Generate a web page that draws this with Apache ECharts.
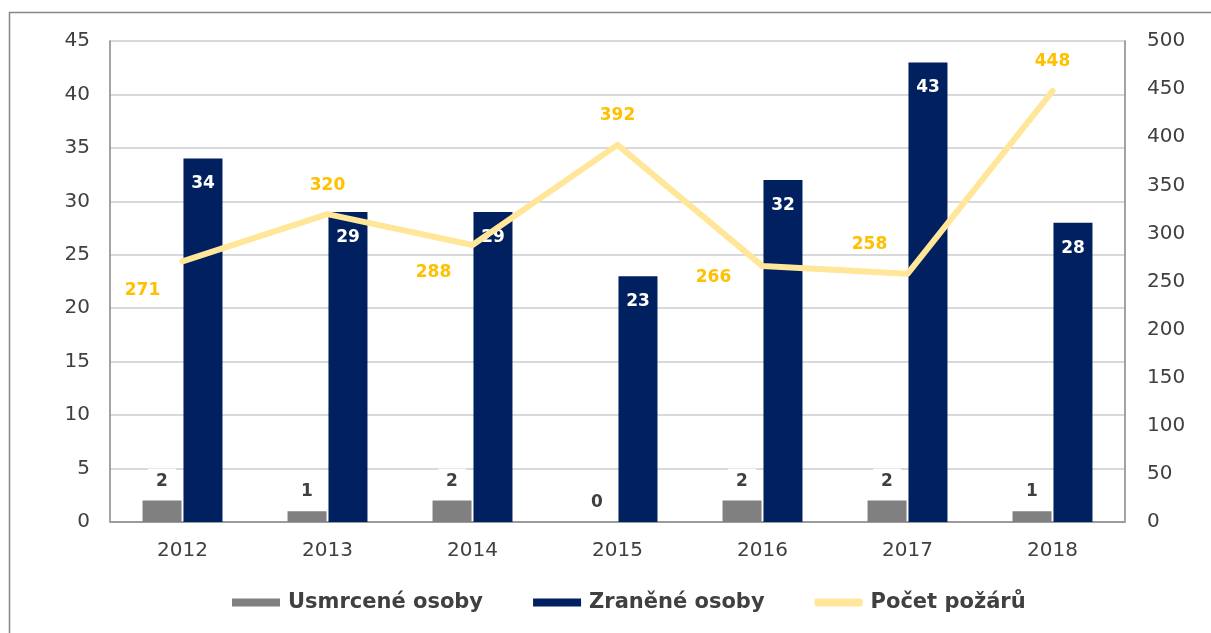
<!DOCTYPE html>
<html>
<head>
<meta charset="utf-8">
<script src="https://cdn.jsdelivr.net/npm/echarts@6/dist/echarts.min.js"></script>
<style>
  html, body { margin: 0; padding: 0; background: #fff; }
  #chart { width: 1211px; height: 633px; }
</style>
</head>
<body>
<div id="chart"></div>
<script>
// Years on the category axis
const years = ['2012', '2013', '2014', '2015', '2016', '2017', '2018'];
// Persons killed (left axis)
const killed = [2, 1, 2, 0, 2, 2, 1];
// Persons injured (left axis)
const injured = [34, 29, 29, 23, 32, 43, 28];
// Number of fires (right axis)
const fires = [271, 320, 288, 392, 266, 258, 448];
// Where each fire-count label sits relative to its point
const fireLabelOffsets = [[-40, 29], [0, -29], [-39, 28], [0, -29], [-49, 11], [-38, -29], [0, -29]];

const FONT = '"DejaVu Sans", Verdana, sans-serif';
const TEXT = '#404040';

const chart = echarts.init(document.getElementById('chart'), null, { renderer: 'canvas' });

chart.setOption({
  animation: false,
  textStyle: { fontFamily: FONT },
  graphic: [{
    type: 'rect',
    shape: { x: 9.5, y: 12.5, width: 1400, height: 800 },
    style: { fill: 'none', stroke: '#868686', lineWidth: 1.5 },
    silent: true
  }],
  grid: { left: 110, right: 86, top: 41, bottom: 111 },
  legend: {
    bottom: 15,
    left: 227,
    itemGap: 50,
    itemWidth: 48,
    itemHeight: 8,
    textStyle: { color: TEXT, fontSize: 21, fontWeight: 'bold', fontFamily: FONT, padding: [0, 0, 0, 3] },
    data: [
      { name: 'Usmrcené osoby', icon: 'rect' },
      { name: 'Zraněné osoby', icon: 'rect' },
      { name: 'Počet požárů', icon: 'roundRect' }
    ]
  },
  xAxis: [{
    type: 'category',
    data: years,
    axisTick: { show: false },
    axisLine: { lineStyle: { color: '#d9d9d9', width: 2 } },
    axisLabel: { color: TEXT, fontSize: 20, margin: 19, fontFamily: FONT }
  }, {
    type: 'category',
    data: years,
    position: 'top',
    axisTick: { show: false },
    axisLabel: { show: false },
    axisLine: { lineStyle: { color: '#868686', width: 1.5 } }
  }],
  yAxis: [{
    type: 'value',
    min: 0, max: 45, interval: 5,
    axisLine: { show: true, lineStyle: { color: '#868686', width: 1.5 } },
    axisTick: { show: false },
    splitLine: { lineStyle: { color: '#d9d9d9', width: 2 } },
    axisLabel: { color: TEXT, fontSize: 20, margin: 20, fontFamily: FONT }
  }, {
    type: 'value',
    min: 0, max: 500, interval: 50,
    position: 'right',
    axisLine: { show: true, lineStyle: { color: '#868686', width: 1.5 } },
    axisTick: { show: false },
    splitLine: { show: false },
    axisLabel: { color: TEXT, fontSize: 20, margin: 22, fontFamily: FONT }
  }],
  series: [{
    name: 'Usmrcené osoby',
    type: 'bar',
    data: killed,
    barWidth: 39,
    barGap: '5%',
    itemStyle: { color: '#808080' },
    label: {
      show: true,
      position: 'top',
      distance: 7,
      color: TEXT,
      fontSize: 17,
      fontWeight: 'bold',
      fontFamily: FONT,
      backgroundColor: '#fff',
      padding: [4, 8]
    }
  }, {
    name: 'Zraněné osoby',
    type: 'bar',
    data: injured,
    barWidth: 39,
    itemStyle: { color: '#002060' },
    label: {
      show: true,
      position: 'insideTop',
      distance: 17,
      color: '#fff',
      fontSize: 17,
      fontWeight: 'bold',
      fontFamily: FONT
    }
  }, {
    name: 'Počet požárů',
    type: 'line',
    yAxisIndex: 1,
    data: fires.map((v, i) => ({
      value: v,
      label: { offset: fireLabelOffsets[i] }
    })),
    symbol: 'circle',
    symbolSize: 0.1,
    showSymbol: true,
    lineStyle: { color: '#FFE699', width: 6, cap: 'round', join: 'round' },
    itemStyle: { color: '#FFE699' },
    z: 5,
    label: {
      show: true,
      position: 'inside',
      color: '#FFC000',
      fontSize: 17,
      fontWeight: 'bold',
      fontFamily: FONT
    }
  }]
});
</script>
</body>
</html>
